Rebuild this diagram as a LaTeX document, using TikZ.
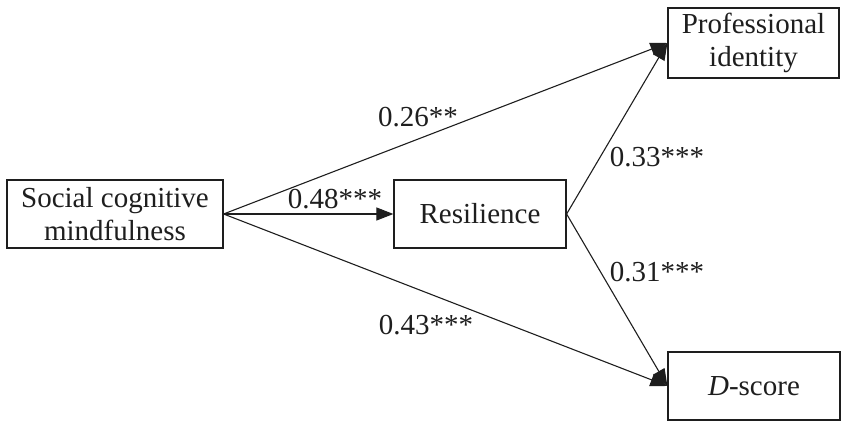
\documentclass[tikz,border=0pt]{standalone}
\usepackage{fontspec}
\setmainfont{Liberation Serif}
\usetikzlibrary{arrows.meta}
\definecolor{MedInk}{RGB}{30,30,30}
\tikzset{
  med/box/.style={
    draw=MedInk,
    line width=1.2pt,
    fill=white,
    align=center,
    text=MedInk,
    inner sep=0pt,
    font=\fontsize{29}{33}\selectfont
  },
  med/arrow/.style={-{Triangle[length=17pt,width=13pt]}, line width=1.1pt, draw=MedInk},
  med/coef/.style={font=\fontsize{29}{33}\selectfont, text=MedInk, inner sep=0pt}
}
\begin{document}
\begin{tikzpicture}[x=1pt,y=-1pt]
  \useasboundingbox (0,0) rectangle (851,430);
  \node[med/box,minimum width=216pt,minimum height=68pt] (scm) at (115,214) {Social cognitive\\mindfulness};
  \node[med/box,minimum width=172pt,minimum height=68pt] (res) at (480,214) {Resilience};
  \node[med/box,minimum width=171pt,minimum height=70pt] (pid) at (753.5,43) {Professional\\identity};
  \node[med/box,minimum width=172pt,minimum height=68pt] (dsc) at (754,386) {\textit{D}-score};
  \draw[med/arrow] (scm.east) -- (res.west);
  \draw[med/arrow] (scm.east) -- (pid.west);
  \draw[med/arrow] (scm.east) -- (dsc.west);
  \draw[med/arrow] (res.east) -- (pid.west);
  \draw[med/arrow] (res.east) -- (dsc.west);
  \node[med/coef] (c26) at (418,117) {0.26**};
  \node[med/coef] (c48) at (335,199) {0.48***};
  \node[med/coef] (c43) at (426,325) {0.43***};
  \node[med/coef] (c33) at (657,157) {0.33***};
  \node[med/coef] (c31) at (657,272) {0.31***};
\end{tikzpicture}
\end{document}
